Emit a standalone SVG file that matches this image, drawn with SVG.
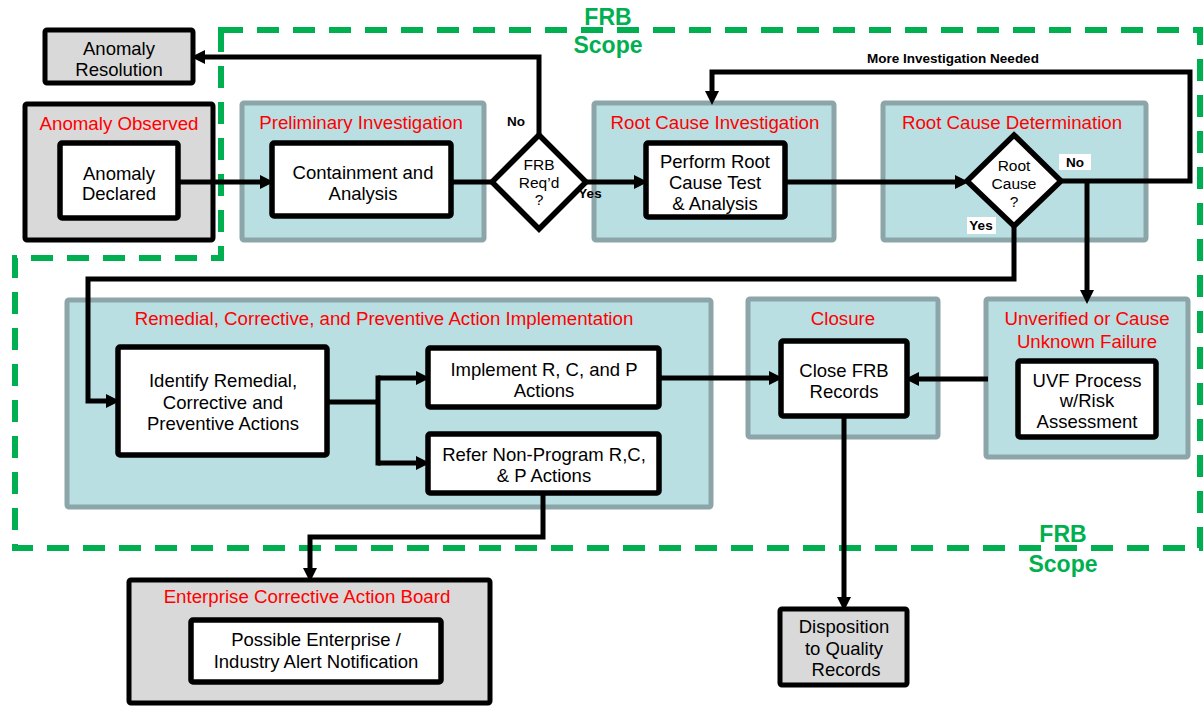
<svg xmlns="http://www.w3.org/2000/svg" width="1204" height="707" viewBox="0 0 1204 707">
<defs>
<style>
.t{font-family:"Liberation Sans",Arial,sans-serif;font-size:18.5px;fill:#000;text-anchor:middle}
.r{font-family:"Liberation Sans",Arial,sans-serif;font-size:18.7px;fill:#ff0000;text-anchor:middle}
.d{font-family:"Liberation Sans",Arial,sans-serif;font-size:15.5px;fill:#000;text-anchor:middle}
.b{font-family:"Liberation Sans",Arial,sans-serif;font-size:13.5px;font-weight:bold;fill:#000;text-anchor:middle}
.g{font-family:"Liberation Sans",Arial,sans-serif;font-size:23px;font-weight:bold;fill:#00b050;text-anchor:middle}
.teal{fill:#b9dfe3;stroke:#8ca5a8;stroke-width:5}
.gray{fill:#d9d9d9;stroke:#000;stroke-width:5}
.box{fill:#fff;stroke:#000;stroke-width:5.5}
.dia{fill:#fff;stroke:#000;stroke-width:5.5;stroke-linejoin:miter}
.c{fill:none;stroke:#000;stroke-width:5}
.ca{fill:none;stroke:#000;stroke-width:5;marker-end:url(#ah)}
.scope{fill:none;stroke:#00b050;stroke-width:6;stroke-dasharray:22 14}
</style>
<marker id="ah" markerUnits="userSpaceOnUse" markerWidth="16" markerHeight="16" refX="4" refY="7" orient="auto">
<path d="M0,0 L14,7 L0,14 z" fill="#000"/>
</marker>
</defs>
<rect width="1204" height="707" fill="#fff"/>

<g id="frb-scope">
<path class="scope" d="M221,30 L1200,30 L1200,548 L15,548 L15,258 L221,258 Z"/>
<text class="g" x="608" y="25">FRB</text>
<text class="g" x="608" y="53">Scope</text>
<text class="g" x="1063" y="542">FRB</text>
<text class="g" x="1063" y="572">Scope</text>
</g>

<g id="anomaly-resolution">
<rect class="gray" x="45" y="30" width="148" height="53" rx="2"/>
<text class="t" x="119" y="55">Anomaly</text>
<text class="t" x="119" y="76">Resolution</text>
</g>

<g id="anomaly-observed">
<rect class="gray" x="25" y="104" width="188" height="136" rx="2"/>
<text class="r" x="119" y="130">Anomaly Observed</text>
<rect class="box" x="60" y="143" width="118" height="75" rx="2"/>
<text class="t" x="119" y="180">Anomaly</text>
<text class="t" x="119" y="200">Declared</text>
</g>

<g id="preliminary-investigation">
<rect class="teal" x="242" y="103" width="242" height="137" rx="2"/>
<text class="r" x="361" y="129">Preliminary Investigation</text>
<rect class="box" x="272" y="143" width="179" height="73" rx="2"/>
<text class="t" x="363" y="179">Containment and</text>
<text class="t" x="363" y="200">Analysis</text>
</g>

<g id="frb-required">
<polygon class="dia" points="539,135 586,182 539,229 492,182"/>
<text class="d" x="539" y="170">FRB</text>
<text class="d" x="539" y="188">Req’d</text>
<text class="d" x="539" y="205">?</text>
</g>

<g id="root-cause-investigation">
<rect class="teal" x="594" y="103" width="240" height="137" rx="2"/>
<text class="r" x="715" y="129">Root Cause Investigation</text>
<rect class="box" x="646" y="143" width="139" height="74" rx="2"/>
<text class="t" x="715" y="168">Perform Root</text>
<text class="t" x="715" y="189">Cause Test</text>
<text class="t" x="715" y="210">&amp; Analysis</text>
</g>

<g id="root-cause-determination">
<rect class="teal" x="883" y="103" width="263" height="137" rx="2"/>
<text class="r" x="1012" y="129">Root Cause Determination</text>
</g>

<g id="root-cause-decision">
<polygon class="dia" points="1014,135 1061,181 1014,226 967,181"/>
<text class="d" x="1014" y="171">Root</text>
<text class="d" x="1014" y="189">Cause</text>
<text class="d" x="1014" y="207">?</text>
</g>

<g id="remedial-implementation">
<rect class="teal" x="67" y="300" width="644" height="207" rx="2"/>
<text class="r" x="384" y="325">Remedial, Corrective, and Preventive Action Implementation</text>
</g>

<g id="identify-actions">
<rect class="box" x="118" y="347" width="209" height="108" rx="2"/>
<text class="t" x="223" y="387">Identify Remedial,</text>
<text class="t" x="223" y="409">Corrective and</text>
<text class="t" x="223" y="430">Preventive Actions</text>
</g>

<g id="implement-actions">
<rect class="box" x="428" y="348" width="231" height="59" rx="2"/>
<text class="t" x="544" y="376">Implement R, C, and P</text>
<text class="t" x="544" y="397">Actions</text>
</g>

<g id="refer-actions">
<rect class="box" x="428" y="434" width="231" height="59" rx="2"/>
<text class="t" x="544" y="461">Refer Non-Program R,C,</text>
<text class="t" x="544" y="482">&amp; P Actions</text>
</g>

<g id="closure">
<rect class="teal" x="748" y="299" width="190" height="138" rx="2"/>
<text class="r" x="843" y="325">Closure</text>
<rect class="box" x="781" y="341" width="126" height="75" rx="2"/>
<text class="t" x="844" y="377">Close FRB</text>
<text class="t" x="844" y="398">Records</text>
</g>

<g id="unverified-failure">
<rect class="teal" x="986" y="299" width="202" height="158" rx="2"/>
<text class="r" x="1087" y="325">Unverified or Cause</text>
<text class="r" x="1087" y="348">Unknown Failure</text>
<rect class="box" x="1018" y="361" width="138" height="76" rx="2"/>
<text class="t" x="1087" y="387">UVF Process</text>
<text class="t" x="1087" y="407">w/Risk</text>
<text class="t" x="1087" y="428">Assessment</text>
</g>

<g id="enterprise-board">
<rect class="gray" x="129" y="580" width="361" height="123" rx="2"/>
<text class="r" x="307" y="603">Enterprise Corrective Action Board</text>
<rect class="box" x="191" y="620" width="250" height="62" rx="2"/>
<text class="t" x="316" y="646">Possible Enterprise /</text>
<text class="t" x="316" y="668">Industry Alert Notification</text>
</g>

<g id="disposition">
<rect class="gray" x="780" y="609" width="127" height="76" rx="2"/>
<text class="t" x="844" y="633">Disposition</text>
<text class="t" x="844" y="655">to Quality</text>
<text class="t" x="846" y="676">Records</text>
</g>

<g id="connectors">
<path class="ca" d="M178,182 L264,182"/>
<path class="c" d="M451,182 L492,182"/>
<path class="ca" d="M539,135 L539,57 L201,57"/>
<path class="ca" d="M586,182 L638,182"/>
<path class="ca" d="M785,182 L959,182"/>
<path class="ca" d="M1061,181 L1190,181 L1190,72 L712,72 L712,95"/>
<path class="ca" d="M1087,181 L1087,294"/>
<path class="ca" d="M1014,226 L1014,279 L88,279 L88,401 L110,401"/>
<path class="c" d="M327,402 L378,402"/>
<path class="ca" d="M378,378 L420,378"/>
<path class="ca" d="M378,463 L420,463"/>
<path class="c" d="M378,375.5 L378,465.5"/>
<path class="ca" d="M659,378 L773,378"/>
<path class="ca" d="M988,379 L915,379"/>
<path class="ca" d="M543,493 L543,537 L310,537 L310,572"/>
<path class="ca" d="M844,416 L844,601"/>
<text class="b" x="516" y="126">No</text>
<text class="b" x="590" y="198">Yes</text>
<rect x="1059" y="154" width="32" height="16" fill="#fff"/>
<text class="b" x="1075" y="167">No</text>
<rect x="967" y="217" width="29" height="17" fill="#fff"/>
<text class="b" x="981" y="230">Yes</text>
<text class="b" x="953" y="63">More Investigation Needed</text>
</g>
</svg>
